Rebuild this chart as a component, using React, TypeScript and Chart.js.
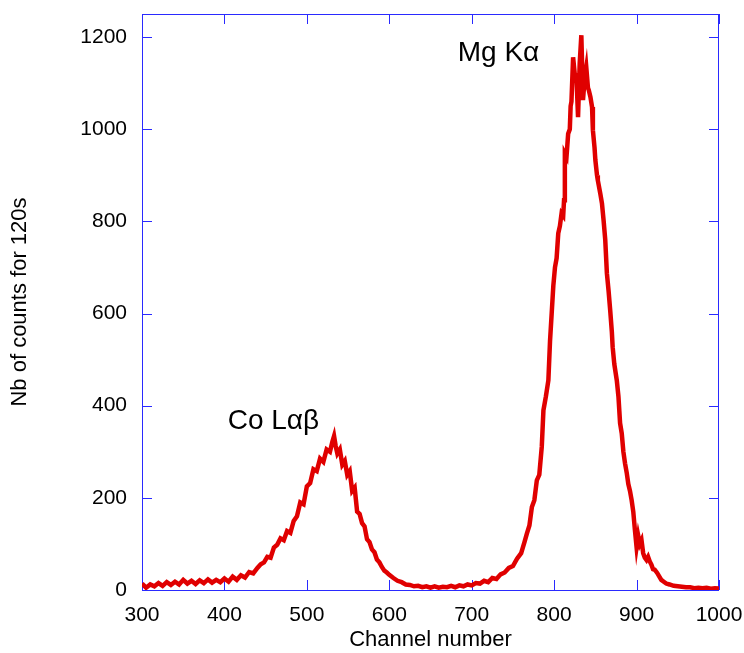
import { useEffect, useRef } from 'react';
import { Chart, registerables } from 'chart.js';

Chart.register(...registerables);

const channels = [
  300, 305, 310, 315, 320, 325, 330, 335, 340, 345, 350, 355, 360, 365, 370, 375, 380, 385, 390, 395,
  400, 405, 410, 415, 420, 425, 430, 435,
  440, 444, 448, 452, 456, 460, 464, 468, 472, 476, 480, 484, 488, 492, 496, 500, 504, 508, 512, 516, 520, 524, 528, 531,
  533, 535, 537, 540, 543, 546, 549, 552, 555, 558, 561, 564, 567, 570, 573, 576, 579, 582, 585, 588, 591, 594, 597,
  600, 605, 610, 615, 620, 625, 630, 635, 640, 645, 650, 655, 660, 665, 670, 675, 680, 685, 690, 695,
  700, 705, 710, 715, 720, 725, 730, 735, 740, 745, 750, 755,
  760, 764, 767, 770, 773, 776, 779, 782, 785, 787, 790, 793, 795, 797, 799, 801, 803, 805, 807, 809, 811, 812, 813, 815, 817, 819,
  820, 821, 823, 825, 827, 829, 831, 833, 835, 837, 839, 841, 842, 844, 846, 847, 849,
  850, 852, 853, 856, 858, 860, 862, 864, 866, 868, 870, 871, 873, 876, 878, 880, 882, 884, 886, 888, 890, 892, 894, 896, 898,
  900, 902, 904, 906, 908, 910, 912, 914, 916, 918, 920, 922, 925, 928, 930, 933, 936, 940, 945,
  950, 955, 960, 965, 970, 975, 980, 985, 990, 995, 1000,
];

const counts = [
  14, 5, 12, 8, 15, 9, 17, 11, 18, 12, 22, 14, 20, 13, 21, 15, 23, 16, 22, 17,
  25, 18, 29, 22, 32, 27, 39, 36,
  48, 56, 60, 72, 70, 92, 98, 112, 108, 128, 124, 150, 160, 190, 186, 225, 232, 262, 258, 285, 278, 305, 300, 322,
  334, 312, 296, 305, 272, 280, 250, 258, 215, 222, 170, 165, 145, 138, 110, 104, 88, 82, 66, 60, 50, 42, 38,
  33, 26, 20, 17, 12, 11, 8, 9, 6, 8, 5, 8, 5, 7, 6, 9, 6, 10, 8, 12,
  10, 15, 14, 20, 17, 26, 24, 34, 38, 48, 52, 68,
  80, 104, 123, 140, 180, 195, 238, 250, 311, 390, 420, 455, 540, 600, 660, 700, 720, 774, 790, 817, 812, 846, 947, 940, 990, 1000,
  1050, 1060, 1156, 1120, 1117, 1026, 1143, 1204, 1063, 1110, 1134, 1090, 1085, 1070, 1048, 998, 960,
  933, 900, 889, 860, 839, 802, 760, 687, 650, 607, 560, 527, 490, 455, 420, 362, 340, 300, 275, 255, 230, 215, 195, 170, 130,
  93, 118, 100, 108, 80, 70, 65, 72, 62, 55, 45, 44, 37, 28, 22, 18, 14, 12, 9,
  8, 7, 6, 6, 4, 5, 4, 5, 3, 4, 3,
];

const xTicks = [300, 400, 500, 600, 700, 800, 900, 1000];
const yTicks = [0, 200, 400, 600, 800, 1000, 1200];

const peakLabels = ['Mg Kα', 'Co Lαβ'];
const peakLabelChannels = [683, 404];
const peakLabelCounts = [1165, 367];

const FONT = "'Liberation Sans', Arial, Helvetica, sans-serif";
const FRAME = '#2a2aff';

const framePlugin = {
  id: 'frameTicks',
  beforeDatasetsDraw(chart: any) {
    const { ctx, chartArea: a, scales } = chart;
    const x = scales.x;
    const y = scales.y;
    ctx.save();
    ctx.strokeStyle = FRAME;
    ctx.lineWidth = 1;
    ctx.strokeRect(a.left + 0.5, a.top + 0.5, a.right - a.left - 1, a.bottom - a.top);
    ctx.beginPath();
    const len = 10;
    for (const v of xTicks) {
      const px = Math.round(x.getPixelForValue(v)) + 0.5;
      ctx.moveTo(px, a.bottom);
      ctx.lineTo(px, a.bottom - len);
      ctx.moveTo(px, a.top);
      ctx.lineTo(px, a.top + len);
    }
    for (const v of yTicks) {
      const py = Math.round(y.getPixelForValue(v)) + 0.5;
      ctx.moveTo(a.left, py);
      ctx.lineTo(a.left + len, py);
      ctx.moveTo(a.right, py);
      ctx.lineTo(a.right - len, py);
    }
    ctx.stroke();
    ctx.restore();
  },
  afterDatasetsDraw(chart: any) {
    const { ctx, scales } = chart;
    ctx.save();
    ctx.fillStyle = '#000';
    ctx.font = `28px ${FONT}`;
    ctx.textAlign = 'left';
    ctx.textBaseline = 'middle';
    peakLabels.forEach((t, i) => {
      ctx.fillText(t, scales.x.getPixelForValue(peakLabelChannels[i]), scales.y.getPixelForValue(peakLabelCounts[i]));
    });
    ctx.restore();
  },
};

const noPad = (s: any) => {
  s.paddingLeft = 0;
  s.paddingRight = 0;
  s.paddingTop = 0;
  s.paddingBottom = 0;
};

export default function App() {
  const ref = useRef<HTMLCanvasElement | null>(null);

  useEffect(() => {
    if (!ref.current) return;
    const chart = new Chart(ref.current, {
      type: 'line',
      data: {
        datasets: [
          {
            data: channels.map((c, i) => ({ x: c, y: counts[i] })),
            borderColor: '#e00000',
            borderWidth: 4.5,
            pointRadius: 0,
            tension: 0,
            fill: false,
          },
        ],
      },
      options: {
        responsive: false,
        animation: false,
        events: [],
        layout: { padding: { top: 14, right: 25, left: 0, bottom: 0 } },
        plugins: { legend: { display: false }, tooltip: { enabled: false } },
        scales: {
          x: {
            type: 'linear',
            min: 300,
            max: 1000,
            afterBuildTicks: (s: any) => {
              s.ticks = xTicks.map((v) => ({ value: v }));
            },
            afterFit: (s: any) => {
              s.height = 63;
              noPad(s);
            },
            grid: { display: false, drawTicks: false },
            border: { display: false },
            ticks: {
              color: '#000',
              font: { family: FONT, size: 21 },
              padding: 13,
              maxRotation: 0,
              autoSkip: false,
              callback: (v: any) => String(v),
            },
            title: {
              display: true,
              text: 'Channel number',
              color: '#000',
              font: { family: FONT, size: 22 },
              padding: { top: 0, bottom: 0 },
            },
          },
          y: {
            type: 'linear',
            min: 0,
            max: 1250,
            afterBuildTicks: (s: any) => {
              s.ticks = yTicks.map((v) => ({ value: v }));
            },
            afterFit: (s: any) => {
              s.width = 142;
              noPad(s);
            },
            grid: { display: false, drawTicks: false },
            border: { display: false },
            ticks: {
              color: '#000',
              font: { family: FONT, size: 21 },
              padding: 15,
              autoSkip: false,
              callback: (v: any) => String(v),
            },
            title: {
              display: true,
              text: 'Nb of counts for 120s',
              color: '#000',
              font: { family: FONT, size: 22 },
              padding: { top: 7, bottom: 0 },
            },
          },
        },
      },
      plugins: [framePlugin],
    });
    return () => chart.destroy();
  }, []);

  return (
    <div style={{ position: 'fixed', left: 0, top: 0, width: 744, height: 653, background: '#fff' }}>
      <canvas ref={ref} width={744} height={653} />
    </div>
  );
}
